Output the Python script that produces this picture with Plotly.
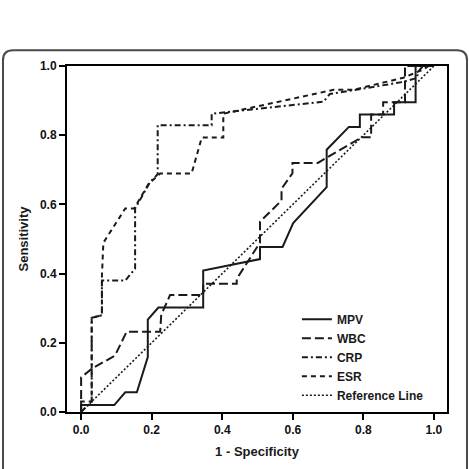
import plotly.graph_objects as go

# ROC curve data (1 - Specificity, Sensitivity)
mpv_x = [0, 0, 0.094, 0.125, 0.158, 0.189, 0.189, 0.219, 0.346, 0.346, 0.507, 0.507, 0.571, 0.601, 0.696, 0.696, 0.759, 0.790, 0.790, 0.887, 0.887, 0.948, 0.948, 1.0]
mpv_y = [0, 0.02, 0.02, 0.057, 0.057, 0.159, 0.267, 0.302, 0.302, 0.409, 0.442, 0.477, 0.477, 0.546, 0.650, 0.758, 0.824, 0.824, 0.860, 0.860, 0.895, 0.895, 1.0, 1.0]

wbc_x = [0, 0, 0.030, 0.096, 0.129, 0.224, 0.227, 0.252, 0.346, 0.346, 0.441, 0.441, 0.474, 0.507, 0.507, 0.568, 0.568, 0.599, 0.599, 0.671, 0.795, 0.822, 0.822, 0.856, 0.856, 0.918, 0.918, 1.0]
wbc_y = [0, 0.100, 0.125, 0.163, 0.232, 0.232, 0.280, 0.338, 0.338, 0.371, 0.371, 0.385, 0.437, 0.490, 0.550, 0.611, 0.645, 0.690, 0.720, 0.720, 0.794, 0.794, 0.860, 0.860, 0.895, 0.895, 1.0, 1.0]

crp_x = [0, 0.030, 0.030, 0.059, 0.059, 0.125, 0.153, 0.153, 0.195, 0.217, 0.217, 0.370, 0.370, 0.687, 0.705, 0.913, 0.950, 0.960, 0.970, 1.0]
crp_y = [0, 0.030, 0.272, 0.280, 0.380, 0.380, 0.414, 0.588, 0.664, 0.687, 0.829, 0.829, 0.862, 0.897, 0.919, 0.954, 0.965, 0.990, 1.0, 1.0]

esr_x = [0, 0, 0.030, 0.030, 0.059, 0.059, 0.063, 0.125, 0.150, 0.191, 0.224, 0.313, 0.342, 0.403, 0.403, 0.715, 0.771, 0.913, 0.970, 0.985, 1.0]
esr_y = [0, 0.030, 0.030, 0.272, 0.280, 0.394, 0.489, 0.588, 0.588, 0.659, 0.689, 0.689, 0.793, 0.793, 0.862, 0.931, 0.931, 0.966, 0.990, 1.0, 1.0]

ref_x = [0, 1]
ref_y = [0, 1]

tick_vals = [0.0, 0.2, 0.4, 0.6, 0.8, 1.0]
tick_text = ["0.0", "0.2", "0.4", "0.6", "0.8", "1.0"]

ink = "#1a1a1a"
fig = go.Figure()
series = [
    ("MPV", mpv_x, mpv_y, "solid", 2),
    ("WBC", wbc_x, wbc_y, "9px,4px", 2),
    ("CRP", crp_x, crp_y, "6px,3px,2px,3px", 2),
    ("ESR", esr_x, esr_y, "5px,4px", 2),
    ("Reference Line", ref_x, ref_y, "2px,2px", 1.6),
]
for name, xs, ys, dash, w in series:
    fig.add_trace(go.Scatter(x=xs, y=ys, mode="lines", name=name,
                             line=dict(color=ink, width=w, dash=dash)))

# outer rounded frame in paper coordinates
L, R, T, B = -0.1684, 1.0526, 1.0453, -0.18
rx, ry = 10 / 380, 10 / 353
path = (f"M {L+rx},{T} L {R-rx},{T} Q {R},{T} {R},{T-ry} L {R},{B} "
        f"L {L},{B} L {L},{T-ry} Q {L},{T} {L+rx},{T} Z")
fig.add_shape(type="path", path=path, xref="paper", yref="paper",
              line=dict(color="#4a4a4a", width=2), fillcolor="rgba(0,0,0,0)", layer="below")

font_fam = "Liberation Sans, Arial, sans-serif"
axis_common = dict(
    showgrid=False, zeroline=False, showline=True, mirror=True,
    linecolor="black", linewidth=2, ticks="outside", ticklen=6,
    tickwidth=1.5, tickcolor="black",
    tickvals=tick_vals, ticktext=tick_text,
    tickfont=dict(family=font_fam, size=12, color="#111", weight="bold"),
)
fig.update_layout(
    width=469, height=469,
    margin=dict(l=67, r=22, t=66, b=50),
    paper_bgcolor="white", plot_bgcolor="white",
    showlegend=True,
    legend=dict(x=0.605, y=0.31, xanchor="left", yanchor="top",
                bgcolor="rgba(0,0,0,0)", borderwidth=0,
                font=dict(family=font_fam, size=12, color=ink, weight="bold"),
                tracegroupgap=0, itemwidth=30),
    xaxis=dict(range=[-0.04, 1.037],
               title=dict(text="1 - Specificity", standoff=10,
                          font=dict(family=font_fam, size=13, color=ink, weight="bold")),
               **axis_common),
    yaxis=dict(range=[0, 1],
               title=dict(text="Sensitivity", standoff=8,
                          font=dict(family=font_fam, size=13, color=ink, weight="bold")),
               **axis_common),
)

fig.write_html("out.html")
